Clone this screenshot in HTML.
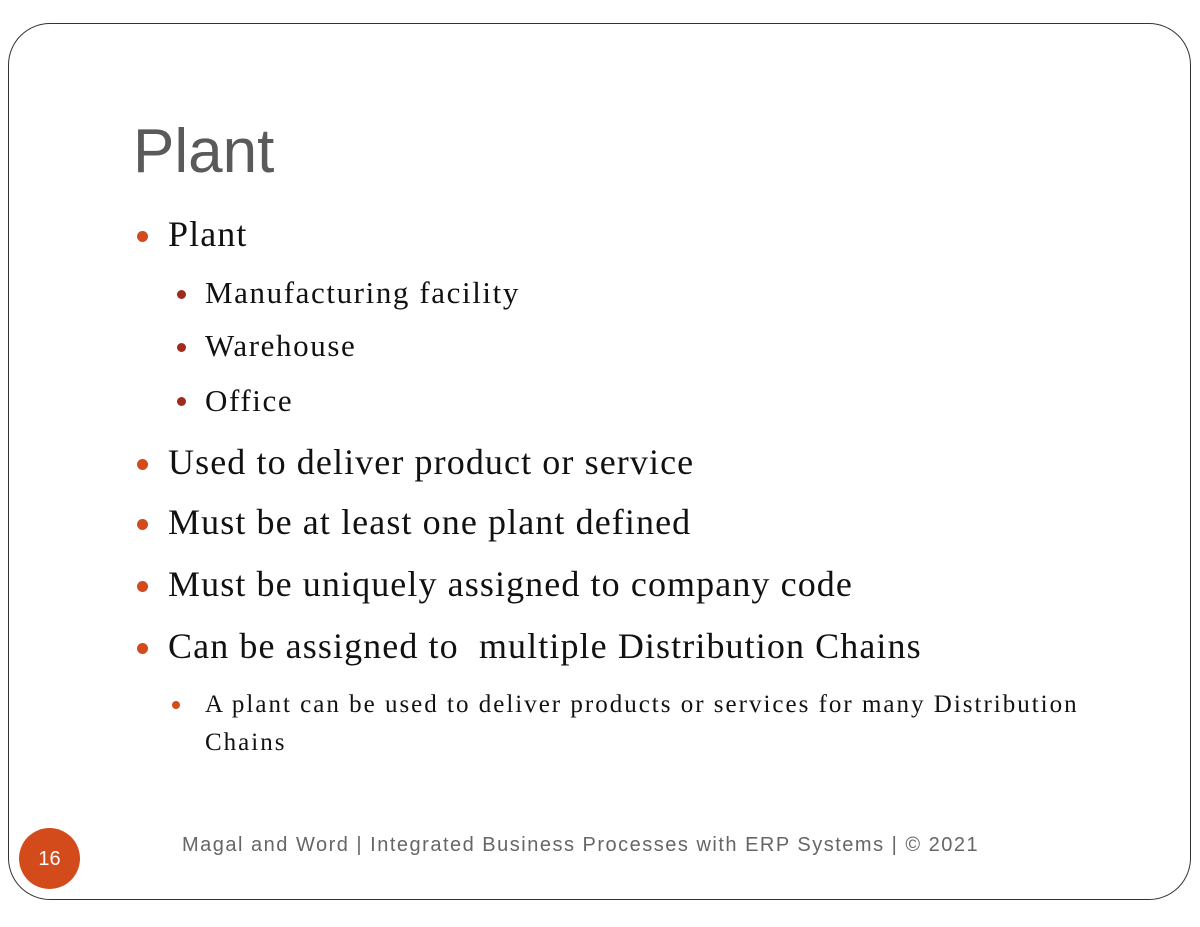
<!DOCTYPE html>
<html><head><meta charset="utf-8"><style>
html,body{margin:0;padding:0;background:#fff;width:1200px;height:927px;overflow:hidden;position:relative}
.frame{position:absolute;left:8px;top:23px;width:1183px;height:877px;border:1.5px solid #333;border-radius:42px;box-sizing:border-box}
.t{position:absolute;white-space:nowrap;line-height:1}
.s{font-family:"Liberation Serif",serif;color:#111}
.l1{font-size:36px;letter-spacing:1.1px}
.l2{font-size:31px;letter-spacing:1.6px}
.l3{font-size:25px;letter-spacing:2px}
.d{position:absolute;border-radius:50%}
</style></head><body>
<div class="frame"></div>
<div class="t" style="left:133px;top:121px;font-family:'Liberation Sans',sans-serif;font-size:62px;color:#5a5a5a">Plant</div>

<div class="d" style="left:137px;top:231px;width:11px;height:11px;background:#d34a1b"></div>
<div class="t s l1" style="left:168px;top:216px">Plant</div>

<div class="d" style="left:177px;top:290px;width:9px;height:9px;background:#9e2b1e"></div>
<div class="t s l2" style="left:205px;top:277px">Manufacturing facility</div>
<div class="d" style="left:177px;top:343px;width:9px;height:9px;background:#9e2b1e"></div>
<div class="t s l2" style="left:205px;top:330px">Warehouse</div>
<div class="d" style="left:177px;top:397px;width:9px;height:9px;background:#9e2b1e"></div>
<div class="t s l2" style="left:205px;top:385px">Office</div>

<div class="d" style="left:137px;top:459px;width:11px;height:11px;background:#d34a1b"></div>
<div class="t s l1" style="left:168px;top:444px">Used to deliver product or service</div>
<div class="d" style="left:137px;top:519px;width:11px;height:11px;background:#d34a1b"></div>
<div class="t s l1" style="left:168px;top:504px">Must be at least one plant defined</div>
<div class="d" style="left:137px;top:581px;width:11px;height:11px;background:#d34a1b"></div>
<div class="t s l1" style="left:168px;top:566px">Must be uniquely assigned to company code</div>
<div class="d" style="left:137px;top:643px;width:11px;height:11px;background:#d34a1b"></div>
<div class="t s l1" style="left:168px;top:628px">Can be assigned to&nbsp; multiple Distribution Chains</div>

<div class="d" style="left:172px;top:701px;width:8px;height:8px;background:#d34a1b"></div>
<div class="t s l3" style="left:205px;top:692px">A plant can be used to deliver products or services for many Distribution</div>
<div class="t s l3" style="left:205px;top:730px">Chains</div>

<div class="d" style="left:19px;top:828px;width:61px;height:61px;background:#d34a1b"></div>
<div class="t" style="left:19px;top:849px;width:61px;text-align:center;font-family:'Liberation Sans',sans-serif;font-size:20px;color:#fff">16</div>
<div class="t" style="left:182px;top:835px;font-family:'Liberation Sans',sans-serif;font-size:20px;letter-spacing:1.5px;color:#666">Magal and Word | Integrated Business Processes with ERP Systems | © 2021</div>
</body></html>
